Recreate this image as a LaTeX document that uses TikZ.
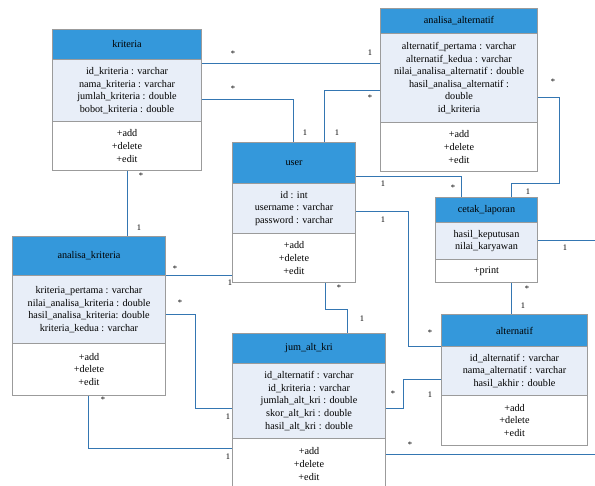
\documentclass[tikz,border=0pt]{standalone}
\usepackage{fontspec}
\setmainfont{Liberation Serif}
\definecolor{hdrblue}{RGB}{52,152,219}
\definecolor{attrfill}{RGB}{232,238,248}
\definecolor{boxline}{RGB}{155,155,155}
\definecolor{connblue}{RGB}{52,118,178}
\tikzset{
  part/.style={draw=boxline, line width=1pt, anchor=north west, inner sep=0pt,
    align=center, font=\fontsize{10.2}{12.6}\selectfont, text=black},
  hdr/.style={part, fill=hdrblue},
  attrs/.style={part, fill=attrfill},
  meths/.style={part, fill=white},
  conn/.style={draw=connblue, line width=1pt},
  mult/.style={inner sep=0pt, anchor=base, font=\fontsize{8.5}{9}\selectfont},
}
\begin{document}
\begin{tikzpicture}[x=1pt,y=-1pt]
\useasboundingbox[fill=white] (0,0) rectangle (595,486);

% kriteria
\node[hdr,   minimum width=149pt, minimum height=30pt] (kriH) at (52,29) {kriteria};
\node[attrs, minimum width=149pt, minimum height=62pt] (kriA) at (52,59)
  {id\_kriteria : varchar\\nama\_kriteria : varchar\\jumlah\_kriteria : double\\bobot\_kriteria : double};
\node[meths, minimum width=149pt, minimum height=49pt] (kriM) at (52,121) {+add\\+delete\\+edit};

% analisa_alternatif
\node[hdr,   minimum width=157pt, minimum height=25pt] (aaH) at (380,8) {analisa\_alternatif};
\node[attrs, minimum width=157pt, minimum height=89pt] (aaA) at (380,33)
  {alternatif\_pertama : varchar\\alternatif\_kedua : varchar\\nilai\_analisa\_alternatif : double\\hasil\_analisa\_alternatif :\\double\\id\_kriteria};
\node[meths, minimum width=157pt, minimum height=49pt] (aaM) at (380,122) {+add\\+delete\\+edit};

% user
\node[hdr,   minimum width=123pt, minimum height=41pt] (usH) at (232,142) {user};
\node[attrs, minimum width=123pt, minimum height=50pt] (usA) at (232,183)
  {id : int\\username : varchar\\password : varchar};
\node[meths, minimum width=123pt, minimum height=49pt] (usM) at (232,233) {+add\\+delete\\+edit};

% cetak_laporan
\node[hdr,   minimum width=102pt, minimum height=25pt] (clH) at (435,197) {cetak\_laporan};
\node[attrs, minimum width=102pt, minimum height=37pt] (clA) at (435,222)
  {hasil\_keputusan\\nilai\_karyawan};
\node[meths, minimum width=102pt, minimum height=23pt] (clM) at (435,259) {+print};

% analisa_kriteria
\node[hdr,   minimum width=153pt, minimum height=39pt] (akH) at (12,236) {analisa\_kriteria};
\node[attrs, minimum width=153pt, minimum height=68pt] (akA) at (12,275)
  {kriteria\_pertama : varchar\\nilai\_analisa\_kriteria : double\\hasil\_analisa\_kriteria: double\\kriteria\_kedua : varchar};
\node[meths, minimum width=153pt, minimum height=52pt] (akM) at (12,343) {+add\\+delete\\+edit};

% jum_alt_kri
\node[hdr,   minimum width=153pt, minimum height=30pt] (jmH) at (232,333) {jum\_alt\_kri};
\node[attrs, minimum width=153pt, minimum height=75pt] (jmA) at (232,363)
  {id\_alternatif : varchar\\id\_kriteria : varchar\\jumlah\_alt\_kri : double\\skor\_alt\_kri : double\\hasil\_alt\_kri : double};
\node[meths, minimum width=153pt, minimum height=51pt] (jmM) at (232,438) {+add\\+delete\\+edit};

% alternatif
\node[hdr,   minimum width=146pt, minimum height=32pt] (alH) at (441,314) {alternatif};
\node[attrs, minimum width=146pt, minimum height=49pt] (alA) at (441,346)
  {id\_alternatif : varchar\\nama\_alternatif : varchar\\hasil\_akhir : double};
\node[meths, minimum width=146pt, minimum height=50pt] (alM) at (441,395) {+add\\+delete\\+edit};

% loose ends running off to the right
\coordinate (offA) at (600,241);
\coordinate (offB) at (600,455);

% associations
\draw[conn] (kriA.east |- 0,64) -- (aaA.west |- 0,64);
\draw[conn] (kriA.east |- 0,100) -| (usH.north -| 293,0);
\draw[conn] (aaA.west |- 0,91) -| (usH.north -| 324,0);
\draw[conn] (aaA.east |- 0,98) -| (559,184) -| (clH.north -| 511,0);
\draw[conn] (usH.east |- 0,177) -| (clH.north -| 461,0);
\draw[conn] (usA.east |- 0,212) -| (408,347) -- (alA.west |- 0,347);
\draw[conn] (jmA.east |- 0,409) -| (403,380) -- (alA.west |- 0,380);
\draw[conn] (jmM.east |- 0,455) -- (offB);
\draw[conn] (clA.east |- 0,241) -- (offA);
\draw[conn] (clM.south -| 511,0) -- (alH.north -| 511,0);
\draw[conn] (usM.south -| 325,0) |- (347,310) -- (jmH.north -| 347,0);
\draw[conn] (kriM.south -| 127,0) -- (akH.north -| 127,0);
\draw[conn] (akH.east |- 0,276) -- (usM.west |- 0,276);
\draw[conn] (akA.east |- 0,315) -| (195,409) -- (jmA.west |- 0,409);
\draw[conn] (akM.south -| 88,0) |- (jmM.west |- 0,449);

% multiplicities
\node[mult] (m1)  at (233,57)  {*};
\node[mult] (m2)  at (370,56)  {1};
\node[mult] (m3)  at (233,92)  {*};
\node[mult] (m4)  at (305,136) {1};
\node[mult] (m5)  at (370,101) {*};
\node[mult] (m6)  at (337,136) {1};
\node[mult] (m7)  at (553,85)  {*};
\node[mult] (m8)  at (528,195) {1};
\node[mult] (m9)  at (453,191) {*};
\node[mult] (m10) at (383,187) {1};
\node[mult] (m11) at (430,336) {*};
\node[mult] (m12) at (383,223) {1};
\node[mult] (m13) at (393,397) {*};
\node[mult] (m14) at (430,398) {1};
\node[mult] (m15) at (410,448) {*};
\node[mult] (m16) at (565,251) {1};
\node[mult] (m17) at (527,292) {*};
\node[mult] (m18) at (523,309) {1};
\node[mult] (m19) at (339,291) {*};
\node[mult] (m20) at (362,322) {1};
\node[mult] (m21) at (141,179) {*};
\node[mult] (m22) at (139,231) {1};
\node[mult] (m23) at (175,272) {*};
\node[mult] (m24) at (230,286) {1};
\node[mult] (m25) at (180,306) {*};
\node[mult] (m26) at (228,420) {1};
\node[mult] (m27) at (103,403) {*};
\node[mult] (m28) at (228,460) {1};
\end{tikzpicture}
\end{document}
